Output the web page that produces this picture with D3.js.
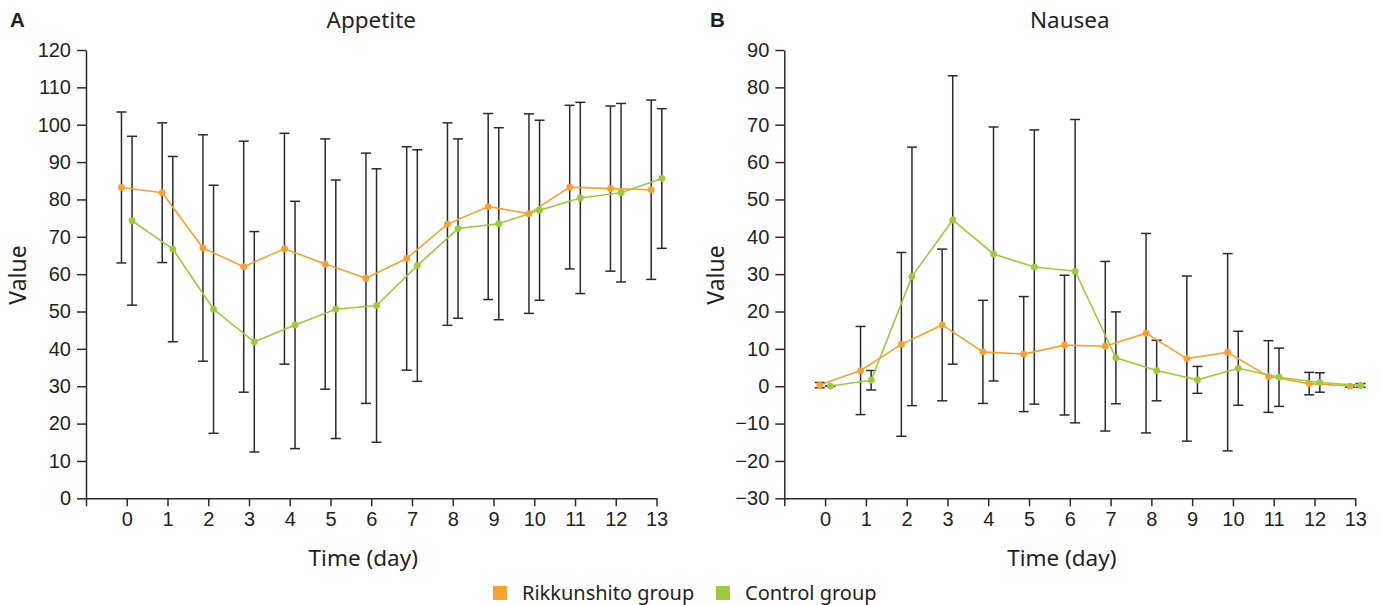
<!DOCTYPE html>
<html>
<head>
<meta charset="utf-8">
<script src="https://cdn.jsdelivr.net/npm/d3@7"></script>
<style>
  body { margin: 0; background: #fff; }
  svg text { fill: #231f20; }
</style>
</head>
<body>
<svg id="chart" width="1381" height="605"></svg>
<script>
var days = d3.range(0, 14);
var xTicks = d3.range(-1, 14);

// Appetite (panel A)
var appetiteRikMean = [83.2, 81.8, 67.0, 62.0, 66.8, 62.7, 58.9, 64.2, 73.4, 78.1, 76.2, 83.3, 82.9, 82.6];
var appetiteRikSd   = [20.2, 18.7, 30.3, 33.6, 30.9, 33.5, 33.5, 29.9, 27.1, 24.9, 26.7, 21.9, 22.1, 24.0];
var appetiteCtlMean = [74.3, 66.7, 50.6, 41.9, 46.4, 50.6, 51.6, 62.3, 72.2, 73.5, 77.1, 80.4, 81.8, 85.6];
var appetiteCtlSd   = [22.6, 24.8, 33.2, 29.5, 33.1, 34.6, 36.6, 31.0, 24.0, 25.7, 24.1, 25.6, 23.9, 18.7];

// Nausea (panel B)
var nauseaRikMean = [0.3, 4.2, 11.2, 16.4, 9.2, 8.6, 11.0, 10.7, 14.2, 7.4, 9.1, 2.6, 0.7, 0.05];
var nauseaRikSd   = [0.7, 11.8, 24.6, 20.3, 13.8, 15.4, 18.7, 22.7, 26.7, 22.1, 26.4, 9.6, 3.0, 0.3];
var nauseaCtlMean = [0.05, 1.6, 29.4, 44.5, 35.4, 31.9, 30.8, 7.6, 4.2, 1.7, 4.8, 2.4, 1.0, 0.2];
var nauseaCtlSd   = [0.0, 2.6, 34.6, 38.6, 34.0, 36.7, 40.6, 12.3, 8.1, 3.6, 9.9, 7.8, 2.6, 0.5];

var yTicksA = d3.range(0, 121, 10);
var yTicksB = d3.range(-30, 91, 10);

var rikColor = "#f9a12c";
var ctlColor = "#9bcb3b";
var barColor = "#2b2b2b";
var offset = 0.13;

var svg = d3.select("#chart");

function panel(opt) {
  var x = d3.scaleLinear().domain([-1, 13]).range([opt.left, opt.right]);
  var y = d3.scaleLinear().domain(opt.yDomain).range([498.3, 50]);
  var g = svg.append("g");

  g.append("g")
    .attr("transform", "translate(0," + y(opt.yDomain[0]) + ")")
    .call(d3.axisBottom(x).tickValues(xTicks).tickSize(8).tickSizeOuter(0).tickPadding(6)
      .tickFormat(function(d) { return d < 0 ? "" : d; }))
    .call(styleAxis);

  g.append("g")
    .attr("transform", "translate(" + opt.left + ",0)")
    .call(d3.axisLeft(y).tickValues(opt.yTicks).tickSize(9).tickSizeOuter(0).tickPadding(6)
      .tickFormat(function(d) { return d < 0 ? "\u2212" + (-d) : d; }))
    .call(styleAxis);

  var series = [
    {mean: opt.rikMean, sd: opt.rikSd, color: rikColor, dx: -offset},
    {mean: opt.ctlMean, sd: opt.ctlSd, color: ctlColor, dx: offset}
  ];

  series.forEach(function(s) {
    var bars = g.append("g").selectAll("g")
      .data(days).enter().append("g")
      .attr("stroke", barColor).attr("stroke-width", 1.5);
    bars.append("line")
      .attr("x1", function(d) { return x(d + s.dx); })
      .attr("x2", function(d) { return x(d + s.dx); })
      .attr("y1", function(d, i) { return y(s.mean[i] + s.sd[i]); })
      .attr("y2", function(d, i) { return y(s.mean[i] - s.sd[i]); });
    [1, -1].forEach(function(sign) {
      bars.append("line")
        .attr("x1", function(d) { return x(d + s.dx) - 5; })
        .attr("x2", function(d) { return x(d + s.dx) + 5; })
        .attr("y1", function(d, i) { return y(s.mean[i] + sign * s.sd[i]); })
        .attr("y2", function(d, i) { return y(s.mean[i] + sign * s.sd[i]); });
    });
  });

  series.forEach(function(s) {
    var line = d3.line()
      .x(function(d) { return x(d + s.dx); })
      .y(function(d, i) { return y(s.mean[i]); });
    g.append("path").datum(days)
      .attr("d", line)
      .attr("fill", "none")
      .attr("stroke", s.color)
      .attr("stroke-width", 1.6);
    g.append("g").selectAll("circle")
      .data(days).enter().append("circle")
      .attr("cx", function(d) { return x(d + s.dx); })
      .attr("cy", function(d, i) { return y(s.mean[i]); })
      .attr("r", 3.4)
      .attr("fill", s.color);
  });

  var cx = (opt.left + opt.right) / 2;
  g.append("text").attr("x", cx).attr("y", 28)
    .attr("text-anchor", "middle")
    .style("font-family", "'Noto Sans', sans-serif").style("font-size", "22.5px")
    .text(opt.title);
  g.append("text").attr("x", opt.letterX).attr("y", 27)
    .style("font-family", "'Liberation Sans', Arial, sans-serif").style("font-size", "20.5px")
    .style("font-weight", "bold")
    .text(opt.letter);
  g.append("text").attr("x", cx - 8).attr("y", 566)
    .attr("text-anchor", "middle")
    .style("font-family", "'Noto Sans', sans-serif").style("font-size", "22.5px")
    .text("Time (day)");
  g.append("text")
    .attr("transform", "translate(" + (opt.left - 60) + ",275) rotate(-90)")
    .attr("text-anchor", "middle")
    .style("font-family", "'Noto Sans', sans-serif").style("font-size", "23px")
    .text("Value");
}

function styleAxis(sel) {
  sel.selectAll("path, line").attr("stroke", "#2b2b2b").attr("stroke-width", 1.5);
  sel.selectAll("text")
    .style("font-family", "'Liberation Sans', Arial, sans-serif")
    .style("font-size", "20px")
    .attr("fill", "#231f20");
}

panel({
  left: 86, right: 656.5, yDomain: [0, 120], yTicks: yTicksA,
  rikMean: appetiteRikMean, rikSd: appetiteRikSd,
  ctlMean: appetiteCtlMean, ctlSd: appetiteCtlSd,
  title: "Appetite", letter: "A", letterX: 10
});

panel({
  left: 784.3, right: 1355.3, yDomain: [-30, 90], yTicks: yTicksB,
  rikMean: nauseaRikMean, rikSd: nauseaRikSd,
  ctlMean: nauseaCtlMean, ctlSd: nauseaCtlSd,
  title: "Nausea", letter: "B", letterX: 710
});

// legend
var legendItems = [
  {label: "Rikkunshito group", color: rikColor, x: 493},
  {label: "Control group", color: ctlColor, x: 716}
];
var lg = svg.append("g").selectAll("g").data(legendItems).enter().append("g");
lg.append("rect")
  .attr("x", function(d) { return d.x; }).attr("y", 586)
  .attr("width", 14).attr("height", 14)
  .attr("fill", function(d) { return d.color; });
lg.append("text")
  .attr("x", function(d) { return d.x + 29; }).attr("y", 600)
  .style("font-family", "'Noto Sans', sans-serif").style("font-size", "20px")
  .text(function(d) { return d.label; });
</script>
</body>
</html>
